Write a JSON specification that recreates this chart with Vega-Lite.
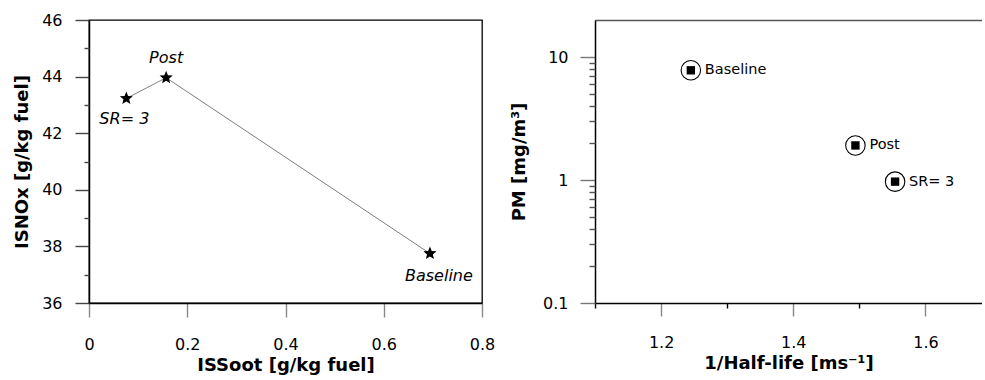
{
  "$schema": "https://vega.github.io/schema/vega-lite/v6.json",
  "background": "white",
  "padding": {"left": 12, "top": 11, "right": 0, "bottom": 0},
  "config": {
    "axis": {
      "labelFont": "DejaVu Sans",
      "labelFontSize": 16,
      "labelColor": "black",
      "titleFont": "DejaVu Sans",
      "titleFontSize": 18,
      "titleFontWeight": "bold",
      "titleColor": "black",
      "domainColor": "black",
      "domainWidth": 1.5,
      "grid": false,
      "tickWidth": 1.4,
      "labelFlush": false,
      "labelOverlap": false
    },
    "text": {"font": "DejaVu Sans", "color": "black"}
  },
  "datasets": {
    "nox": [
      {"label": "SR= 3", "soot": 0.076, "nox": 43.23},
      {"label": "Post", "soot": 0.157, "nox": 43.96},
      {"label": "Baseline", "soot": 0.694, "nox": 37.75}
    ],
    "pm": [
      {"label": "Baseline", "inv_half_life": 1.245, "pm": 7.8},
      {"label": "Post", "inv_half_life": 1.494, "pm": 1.91},
      {"label": "SR= 3", "inv_half_life": 1.554, "pm": 0.97}
    ]
  },
  "spacing": 113,
  "bounds": "flush",
  "hconcat": [
    {
      "width": 393,
      "height": 283,
      "data": {"name": "nox"},
      "view": {"stroke": "black", "strokeWidth": 1.3},
      "encoding": {
        "x": {
          "field": "soot", "type": "quantitative",
          "scale": {"domain": [0, 0.8], "nice": false, "zero": false},
          "axis": {"values": [0, 0.2, 0.4, 0.6, 0.8], "format": "~g", "tickSize": 14, "labelPadding": 19, "title": "ISSoot [g/kg fuel]", "titlePadding": 4, "tickColor": "#888"}
        }
      },
      "layer": [
        {
          "mark": {"type": "line", "color": "#808080", "strokeWidth": 1},
          "encoding": {
            "y": {"field": "nox", "type": "quantitative", "scale": {"domain": [36, 46], "nice": false, "zero": false},
              "axis": {"orient": "left", "values": [36, 38, 40, 42, 44, 46], "tickSize": 14, "labelPadding": 13, "title": "ISNOx [g/kg fuel]", "titlePadding": 10, "tickColor": "#444"}},
            "order": {"field": "soot"}
          }
        },
        {
          "mark": {"type": "point", "shape": "M0,-1L0.26,-0.36L0.951,-0.309L0.42,0.137L0.588,0.809L0,0.44L-0.588,0.809L-0.42,0.137L-0.951,-0.309L-0.26,-0.36Z", "filled": true, "color": "black", "size": 190, "opacity": 1},
          "encoding": {
            "y": {"field": "nox", "type": "quantitative", "scale": {"domain": [36, 46], "nice": false, "zero": false},
              "axis": {"orient": "left", "values": [37, 39, 41, 43, 45], "tickSize": 5, "labels": false, "domain": false, "title": null, "tickColor": "#444"}}
          }
        },
        {
          "transform": [{"filter": "datum.label == 'Post'"}],
          "mark": {"type": "text", "fontSize": 16, "fontStyle": "italic", "align": "center", "baseline": "alphabetic", "dy": -15},
          "encoding": {
            "y": {"field": "nox", "type": "quantitative", "scale": {"domain": [36, 46], "nice": false, "zero": false}, "axis": null},
            "text": {"field": "label"}
          }
        },
        {
          "transform": [{"filter": "datum.label == 'SR= 3'"}],
          "mark": {"type": "text", "fontSize": 16, "fontStyle": "italic", "align": "center", "baseline": "alphabetic", "dy": 26, "dx": -2},
          "encoding": {
            "y": {"field": "nox", "type": "quantitative", "scale": {"domain": [36, 46], "nice": false, "zero": false}, "axis": null},
            "text": {"field": "label"}
          }
        },
        {
          "transform": [{"filter": "datum.label == 'Baseline'"}],
          "mark": {"type": "text", "fontSize": 16, "fontStyle": "italic", "align": "center", "baseline": "alphabetic", "dy": 28, "dx": 9},
          "encoding": {
            "y": {"field": "nox", "type": "quantitative", "scale": {"domain": [36, 46], "nice": false, "zero": false}, "axis": null},
            "text": {"field": "label"}
          }
        }
      ],
      "resolve": {"axis": {"y": "independent"}}
    },
    {
      "width": 387,
      "height": 283,
      "data": {"name": "pm"},
      "view": {"stroke": null},
      "layer": [
        {
          "mark": {"type": "point", "shape": "circle", "filled": false, "color": "black", "strokeWidth": 1.1, "size": 380, "opacity": 1},
          "encoding": {
            "x": {"field": "inv_half_life", "type": "quantitative", "scale": {"domain": [1.1, 1.6855], "nice": false, "zero": false},
              "axis": {"orient": "bottom", "values": [1.2, 1.4, 1.6], "format": "~g", "tickSize": 13, "labelPadding": 18, "title": "1/Half-life [ms⁻¹]", "titlePadding": 4, "tickColor": "#888"}},
            "y": {"field": "pm", "type": "quantitative", "scale": {"type": "log", "domain": [0.1, 20], "nice": false},
              "axis": {"orient": "left", "values": [0.1, 1, 10], "format": "~g", "tickSize": 15, "labelPadding": 12, "title": "PM [mg/m³]", "titlePadding": 14, "tickColor": "#777"}}
          }
        },
        {
          "mark": {"type": "point", "shape": "square", "filled": true, "color": "black", "size": 70, "opacity": 1},
          "encoding": {
            "x": {"field": "inv_half_life", "type": "quantitative", "scale": {"domain": [1.1, 1.6855], "nice": false, "zero": false},
              "axis": {"orient": "bottom", "values": [1.1, 1.3, 1.5], "tickSize": 5, "labels": false, "domain": false, "title": null, "tickColor": "black"}},
            "y": {"field": "pm", "type": "quantitative", "scale": {"type": "log", "domain": [0.1, 20], "nice": false},
              "axis": {"orient": "left", "values": [0.2, 0.3, 0.4, 0.5, 0.6, 0.7, 0.8, 0.9, 2, 3, 4, 5, 6, 7, 8, 9], "tickSize": 6, "labels": false, "domain": false, "title": null, "tickColor": "#555"}}
          }
        },
        {
          "mark": {"type": "text", "align": "left", "baseline": "middle", "dx": 14, "fontSize": 14.5},
          "encoding": {
            "x": {"field": "inv_half_life", "type": "quantitative", "scale": {"domain": [1.1, 1.6855], "nice": false, "zero": false},
              "axis": {"orient": "top", "ticks": false, "labels": false, "title": null, "domainColor": "#555", "domainWidth": 1.3}},
            "y": {"field": "pm", "type": "quantitative", "scale": {"type": "log", "domain": [0.1, 20], "nice": false}, "axis": null},
            "text": {"field": "label"}
          }
        }
      ],
      "resolve": {"axis": {"x": "independent", "y": "independent"}}
    }
  ]
}
